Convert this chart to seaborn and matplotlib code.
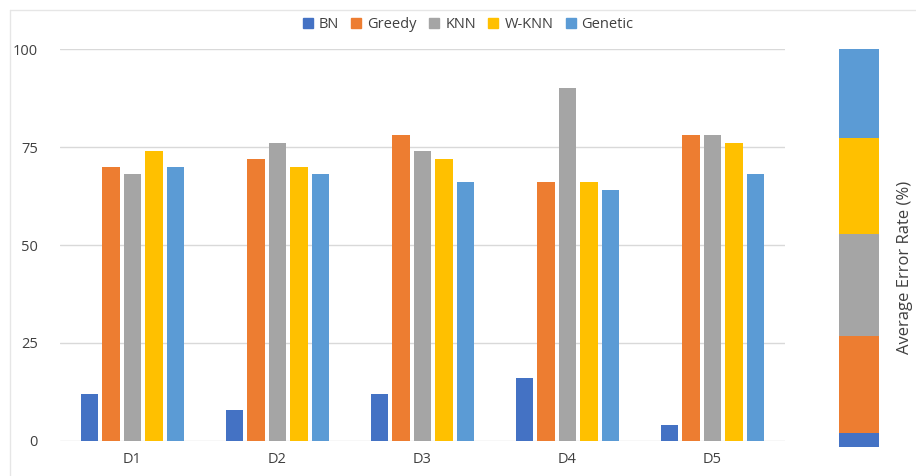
import pandas as pd
import numpy as np
import matplotlib.pyplot as plt
import seaborn as sns
from matplotlib.lines import Line2D

# datos
datasets = ['D1', 'D2', 'D3', 'D4', 'D5']
methods = ['BN', 'Greedy', 'KNN', 'W-KNN', 'Genetic']
bn = [12, 8, 12, 16, 4]
greedy = [70, 72, 78, 66, 78]
knn = [68, 76, 74, 90, 78]
wknn = [74, 70, 72, 66, 76]
genetic = [70, 68, 66, 64, 68]
colors = ['#4472C4', '#ED7D31', '#A5A5A5', '#FFC000', '#5B9BD5']
yticks = [0, 25, 50, 75, 100]

data = pd.DataFrame({'BN': bn, 'Greedy': greedy, 'KNN': knn,
                     'W-KNN': wknn, 'Genetic': genetic}, index=datasets)
long = data.reset_index().melt(id_vars='index', var_name='Method', value_name='Error')
long = long.rename(columns={'index': 'Dataset'})

sns.set_style('white')
plt.rcParams['font.family'] = ['Open Sans', 'DejaVu Sans']
txt = '#404040'

fig = plt.figure(figsize=(9.16, 4.76), dpi=100)
ax = fig.add_axes([60 / 916, 35 / 476, 725 / 916, 392 / 476])

sns.barplot(data=long, x='Dataset', y='Error', hue='Method', hue_order=methods,
            palette=colors, width=0.74, gap=0.2, saturation=1, ax=ax, legend=False,
            linewidth=0)
ax.set_ylim(0, 100)
ax.set_yticks(yticks)
ax.grid(axis='y', color='#D9D9D9', linewidth=1)
ax.set_axisbelow(True)
for s in ax.spines.values():
    s.set_visible(False)
ax.set_xlabel('')
ax.set_ylabel('')
ax.tick_params(axis='both', length=0, labelsize=10.5, colors=txt)
ax.tick_params(axis='y', pad=16)
ax.tick_params(axis='x', pad=8)

# leyenda arriba
handles = [Line2D([], [], marker='s', linestyle='', markersize=6.5, color=c) for c in colors]
fig.legend(handles, methods, loc='center', bbox_to_anchor=(467 / 916, 1 - 25 / 476),
           ncol=5, frameon=False, fontsize=10.5, handletextpad=0.25, columnspacing=0.7,
           handlelength=1.0, labelcolor=txt)

# barra apilada con el promedio de error
avg = data.mean()
share = avg / avg.sum() * 100
ax2 = fig.add_axes([839 / 916, 29 / 476, 40 / 916, 398 / 476])
bottom = 0
for m, c in zip(methods, colors):
    ax2.bar(0, share[m], bottom=bottom, width=1, color=c, linewidth=0)
    bottom += share[m]
ax2.set_xlim(-0.5, 0.5)
ax2.set_ylim(0, 100)
ax2.axis('off')
fig.text(905 / 916, 1 - 267 / 476, 'Average Error Rate (%)', rotation=90,
         ha='center', va='center', fontsize=12, color=txt)

# marco del grafico
fig.add_artist(Line2D([10 / 916, 1], [1 - 10 / 476] * 2, color='#E6E6E6', lw=1))
fig.add_artist(Line2D([10 / 916] * 2, [0, 1 - 10 / 476], color='#E6E6E6', lw=1))

fig.savefig('out.png', dpi=100, facecolor='white')
